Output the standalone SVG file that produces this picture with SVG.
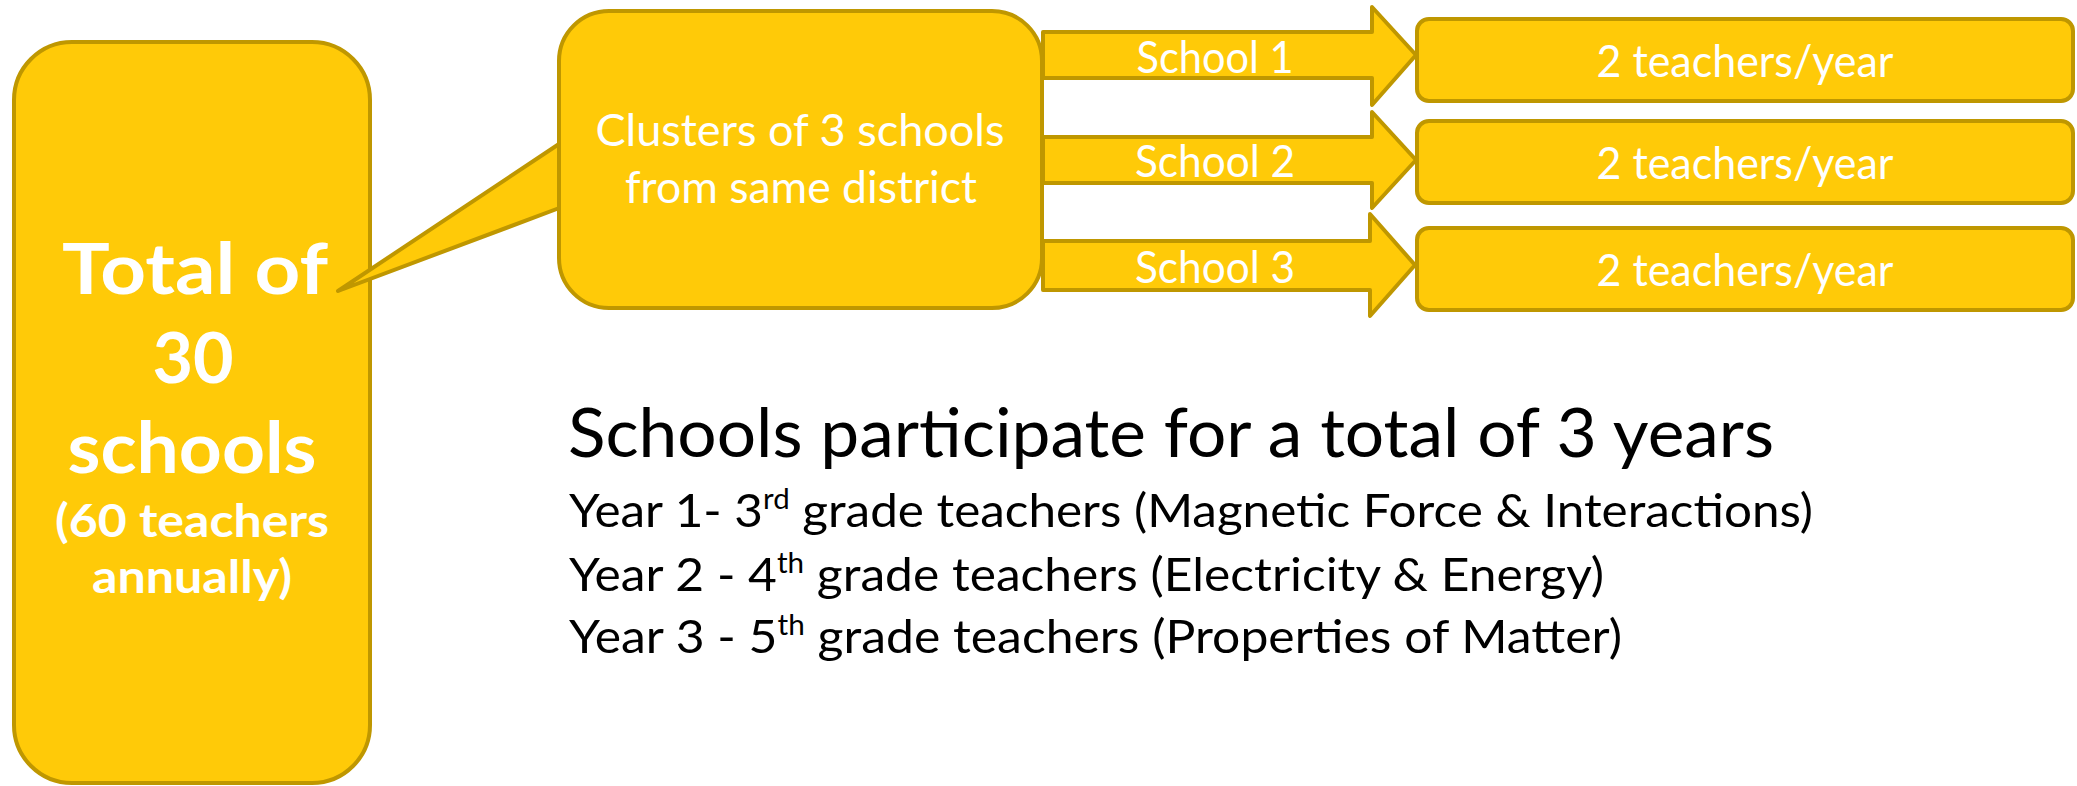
<svg xmlns="http://www.w3.org/2000/svg" width="2077" height="786" viewBox="0 0 2077 786">
<style>
.shape{fill:#FFCA08;stroke:#BF9700;stroke-width:4;stroke-linejoin:round}
.wt{fill:#FFFFFF;font-family:Lato,"Open Sans","Liberation Sans",sans-serif;text-anchor:middle}
.bd{font-weight:bold}
.bk{fill:#000000;font-family:Lato,"Open Sans","Liberation Sans",sans-serif}
</style>
<rect width="2077" height="786" fill="#FFFFFF"/>
<g id="total">
<rect class="shape" x="14" y="42" width="356" height="741" rx="58" ry="58"/>
<text class="wt bd" x="195" y="294" font-size="70" textLength="266" lengthAdjust="spacingAndGlyphs">Total of</text>
<text class="wt bd" x="193" y="383" font-size="70">30</text>
<text class="wt bd" x="192" y="473" font-size="70" textLength="249" lengthAdjust="spacingAndGlyphs">schools</text>
<text class="wt bd" x="192" y="537" font-size="45" textLength="274" lengthAdjust="spacingAndGlyphs">(60 teachers</text>
<text class="wt bd" x="192" y="593" font-size="45" textLength="200" lengthAdjust="spacingAndGlyphs">annually)</text>
</g>
<g id="connectors">
<polygon class="shape" points="338,291 562,142 562,207"/>
<polygon class="shape" points="1043,32 1372,32 1372,7 1416,55 1372,105 1372,78 1043,78"/>
<polygon class="shape" points="1043,137 1372,137 1372,112 1416,160 1372,208 1372,183 1043,183"/>
<polygon class="shape" points="1043,241 1370,241 1370,214 1415,265 1370,316 1370,290 1043,290"/>
<text class="wt" x="1215" y="73" font-size="44" textLength="157" lengthAdjust="spacingAndGlyphs">School 1</text>
<text class="wt" x="1215" y="177" font-size="44" textLength="160" lengthAdjust="spacingAndGlyphs">School 2</text>
<text class="wt" x="1215" y="283" font-size="44" textLength="160" lengthAdjust="spacingAndGlyphs">School 3</text>
</g>
<g id="cluster">
<rect class="shape" x="559" y="11" width="483" height="297" rx="50" ry="50"/>
<text class="wt" x="800" y="146" font-size="44" textLength="409" lengthAdjust="spacingAndGlyphs">Clusters of 3 schools</text>
<text class="wt" x="801" y="203" font-size="44" textLength="352" lengthAdjust="spacingAndGlyphs">from same district</text>
</g>
<g id="teachers1">
<rect class="shape" x="1417" y="19" width="656" height="82" rx="12" ry="12"/>
<text class="wt" x="1745" y="77" font-size="44" textLength="297" lengthAdjust="spacingAndGlyphs">2 teachers/year</text>
</g>
<g id="teachers2">
<rect class="shape" x="1417" y="121" width="656" height="82" rx="12" ry="12"/>
<text class="wt" x="1745" y="179" font-size="44" textLength="297" lengthAdjust="spacingAndGlyphs">2 teachers/year</text>
</g>
<g id="teachers3">
<rect class="shape" x="1417" y="228" width="656" height="82" rx="12" ry="12"/>
<text class="wt" x="1745" y="286" font-size="44" textLength="297" lengthAdjust="spacingAndGlyphs">2 teachers/year</text>
</g>
<g id="notes">
<text class="bk" x="568" y="457" font-size="68" textLength="1206" lengthAdjust="spacingAndGlyphs">Schools participate for a total of 3 years</text>
<text class="bk" x="569" y="527" font-size="47" textLength="1244" lengthAdjust="spacingAndGlyphs">Year 1- 3<tspan font-size="28" dy="-18">rd</tspan><tspan dy="18"> grade teachers (Magnetic Force &amp; Interactions)</tspan></text>
<text class="bk" x="569" y="591" font-size="47" textLength="1035" lengthAdjust="spacingAndGlyphs">Year 2 - 4<tspan font-size="28" dy="-18">th</tspan><tspan dy="18"> grade teachers (Electricity &amp; Energy)</tspan></text>
<text class="bk" x="569" y="653" font-size="47" textLength="1053" lengthAdjust="spacingAndGlyphs">Year 3 - 5<tspan font-size="28" dy="-18">th</tspan><tspan dy="18"> grade teachers (Properties of Matter)</tspan></text>
</g>
</svg>
